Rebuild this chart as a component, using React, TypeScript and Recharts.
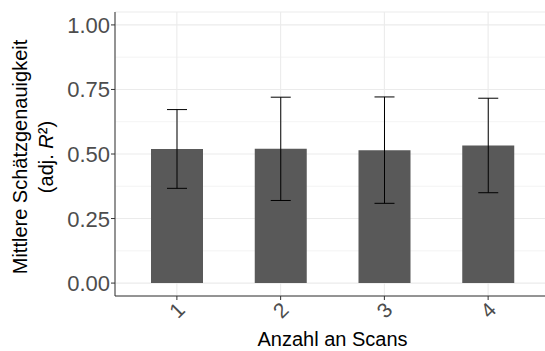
import { Bar, BarChart, CartesianGrid, ErrorBar, XAxis, YAxis } from "recharts";

const scans = ["1", "2", "3", "4"];
const meanR2 = [0.5195, 0.52, 0.515, 0.533];
const sdR2 = [0.1525, 0.2, 0.206, 0.183];
const yTicks = [0, 0.25, 0.5, 0.75, 1];
const yMinor = [0.125, 0.375, 0.625, 0.875];

const data = scans.map((scan, i) => ({ scan, mean: meanR2[i], sd: sdR2[i] }));

const FONT = "'Liberation Sans', Arial, sans-serif";
const INK = "#333333";
const TICK_TEXT = "#4D4D4D";

const YTick = ({ x, y, payload }: any) => (
    <text x={x} y={y} dy={8} textAnchor="end" fontSize={22} fill={TICK_TEXT} fontFamily={FONT}>
        {payload.value.toFixed(2)}
    </text>
);

const XTick = ({ x, y, payload }: any) => {
    const cy = y + 8;
    return (
        <text
            x={x}
            y={cy}
            textAnchor="middle"
            dominantBaseline="central"
            fontSize={21}
            fill={TICK_TEXT}
            fontFamily={FONT}
            transform={`rotate(-45, ${x}, ${cy})`}
        >
            {payload.value}
        </text>
    );
};

const YTitle = ({ viewBox }: any) => {
    const cy = viewBox.y + viewBox.height / 2 + 3;
    return (
        <g fontFamily={FONT} fontSize={20} fill="#000">
            <text x={27} y={cy} textAnchor="middle" transform={`rotate(-90, 27, ${cy})`}>
                Mittlere Schätzgenauigkeit
            </text>
            <text x={52.5} y={cy} textAnchor="middle" transform={`rotate(-90, 52.5, ${cy})`}>
                (adj. <tspan fontStyle="italic">R</tspan>²)
            </text>
        </g>
    );
};

const XTitle = ({ viewBox }: any) => {
    const cx = viewBox.x + viewBox.width / 2;
    return (
        <text x={cx} y={346} textAnchor="middle" fontFamily={FONT} fontSize={20} fill="#000">
            Anzahl an Scans
        </text>
    );
};

export default function App() {
    return (
        <div style={{ width: 545, height: 351, overflow: "hidden", background: "#fff" }}>
            <style>{"body{margin:0}"}</style>
            <BarChart
                width={550}
                height={351}
                data={data}
                margin={{ top: 12, right: 0, bottom: 0, left: 0 }}
                barCategoryGap={0}
            >
                <CartesianGrid vertical={false} horizontalValues={yMinor} stroke="#EBEBEB" strokeWidth={0.6} />
                <CartesianGrid stroke="#EBEBEB" strokeWidth={1.1} />
                <XAxis
                    dataKey="scan"
                    height={55}
                    padding={{ left: 10, right: 10 }}
                    axisLine={{ stroke: INK, strokeWidth: 1 }}
                    tickLine={{ stroke: INK }}
                    tickSize={4}
                    tick={<XTick />}
                    interval={0}
                    label={<XTitle />}
                />
                <XAxis
                    xAxisId="top"
                    dataKey="scan"
                    orientation="top"
                    height={0}
                    padding={{ left: 10, right: 10 }}
                    axisLine={{ stroke: INK, strokeWidth: 1 }}
                    tickLine={false}
                    tick={false}
                />
                <YAxis
                    width={115}
                    domain={[-0.05, 1.05]}
                    ticks={yTicks}
                    allowDataOverflow
                    axisLine={{ stroke: INK, strokeWidth: 1 }}
                    tickLine={{ stroke: INK }}
                    tickSize={4}
                    tickMargin={1}
                    tick={<YTick />}
                    label={<YTitle />}
                />
                <Bar dataKey="mean" fill="#595959" barSize={52} isAnimationActive={false}>
                    <ErrorBar dataKey="sd" width={10} stroke="#000" strokeWidth={1} direction="y" />
                </Bar>
            </BarChart>
        </div>
    );
}
